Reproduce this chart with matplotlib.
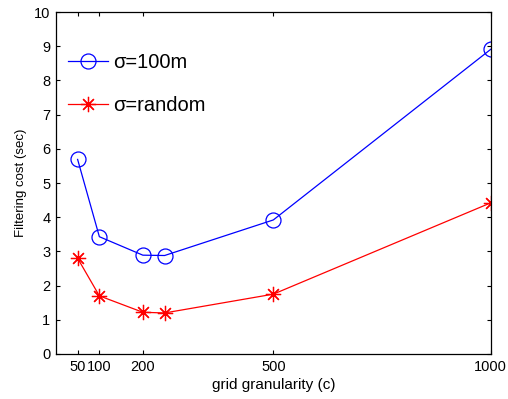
import matplotlib
matplotlib.use("Agg")
import matplotlib.pyplot as plt

plt.rcParams['font.family'] = ['Liberation Sans', 'DejaVu Sans']

grid = [50, 100, 200, 250, 500, 1000]
cost_100m = [5.69, 3.43, 2.89, 2.88, 3.92, 8.91]
cost_random = [2.80, 1.70, 1.22, 1.20, 1.75, 4.42]
xticks = [50, 100, 200, 500, 1000]
yticks = list(range(0, 11))

fig = plt.figure(figsize=(5.08, 3.99), dpi=100)
ax = fig.add_axes([0.110, 0.1128, 0.856, 0.857])

ax.plot(grid, cost_100m, color='#0000ff', marker='o', markersize=10.8,
        markerfacecolor='none', markeredgewidth=0.9, linewidth=0.9, label='σ=100m')
ax.plot(grid, cost_random, color='#ff0000', marker=(8, 2, 0), markersize=11,
        markerfacecolor='none', markeredgewidth=0.9, linewidth=0.9, label='σ=random')

ax.set_xlim(0, 1000)
ax.set_ylim(0, 10)
ax.set_xticks(xticks)
ax.set_yticks(yticks)
ax.tick_params(direction='in', top=True, right=True, labelsize=10.5, length=3, width=0.8, pad=4)
for s in ax.spines.values():
    s.set_linewidth(0.9)

ax.set_xlabel('grid granularity (c)', fontsize=11, labelpad=3)
ax.set_ylabel('Filtering cost (sec)', fontsize=9.5, labelpad=5)

leg = ax.legend(loc='upper left', frameon=False, fontsize=14.5, handlelength=2.0,
                labelspacing=1.2, borderaxespad=0.3, bbox_to_anchor=(0.0, 0.915),
                handletextpad=0.25, borderpad=0.3)

fig.savefig('out.png', dpi=100)
